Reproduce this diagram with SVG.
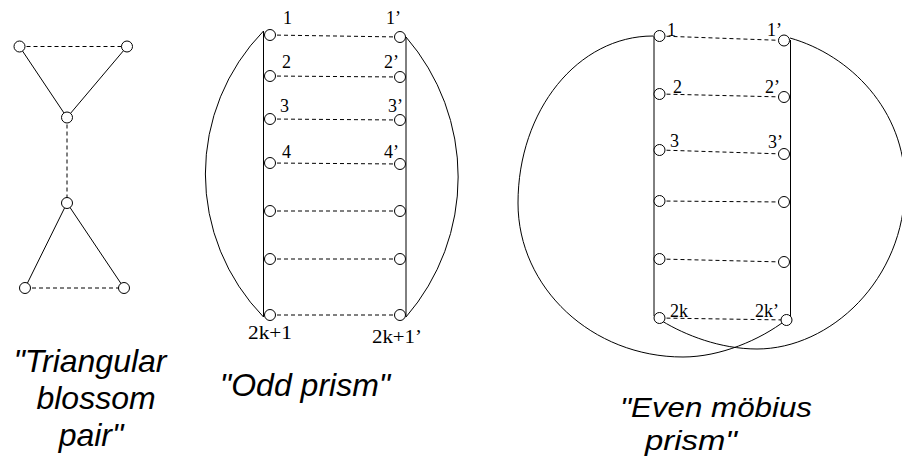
<svg xmlns="http://www.w3.org/2000/svg" width="902" height="457" viewBox="0 0 902 457">
<style>
.e{fill:none;stroke:#000;stroke-width:1}
.d{fill:none;stroke:#000;stroke-width:1;stroke-dasharray:4,3}
.n{fill:#fff;stroke:#000;stroke-width:1}
.l{font-family:"Liberation Serif","Times New Roman",serif;font-size:18px;fill:#000}
.c{font-family:"Liberation Sans",Arial,sans-serif;font-size:32px;font-style:italic;fill:#000;text-anchor:middle}
</style>
<rect width="902" height="457" fill="#fff"/>
<g id="connectors">
  <!-- triangular blossom pair -->
  <line class="e" x1="19.5" y1="46.5" x2="67" y2="117.5"/>
  <line class="e" x1="127" y1="46.5" x2="67" y2="117.5"/>
  <line class="d" x1="19.5" y1="46.5" x2="127" y2="46.5"/>
  <line class="d" x1="67" y1="117.5" x2="67" y2="203"/>
  <line class="e" x1="67" y1="203" x2="25" y2="288"/>
  <line class="e" x1="67" y1="203" x2="124" y2="288"/>
  <line class="d" x1="25" y1="288" x2="124" y2="288"/>
  <!-- odd prism -->
  <line class="e" x1="263.5" y1="31" x2="263.5" y2="317"/>
  <line class="e" x1="406" y1="37" x2="406" y2="317"/>
  <path class="e" d="M263.5,31 A205,205 0 0,0 263.5,317"/>
  <path class="e" d="M406,37 A214,214 0 0,1 406,317"/>
  <line class="d" x1="270" y1="35" x2="400" y2="37"/>
  <line class="d" x1="270" y1="76" x2="400" y2="77"/>
  <line class="d" x1="270" y1="119" x2="400" y2="120"/>
  <line class="d" x1="270" y1="163" x2="400" y2="164"/>
  <line class="d" x1="270" y1="211" x2="400" y2="211"/>
  <line class="d" x1="270" y1="259" x2="400" y2="259"/>
  <line class="d" x1="270" y1="315" x2="400" y2="315"/>
  <!-- even mobius prism -->
  <line class="e" x1="654" y1="36" x2="654" y2="316"/>
  <line class="e" x1="790.5" y1="40" x2="790.5" y2="320"/>
  <path class="e" d="M653,36 C578,36 518,110 518,203 C518,288 592,357 683,357 C720,357 760,340 786,320"/>
  <path class="e" d="M790,38 C850,55 905,110 905,185 C905,280 830,349 757,349 C720,349 685,335 662,321"/>
  <line class="d" x1="659.5" y1="36" x2="784" y2="40.5"/>
  <line class="d" x1="659.5" y1="94" x2="784" y2="97"/>
  <line class="d" x1="659.5" y1="150" x2="784" y2="154"/>
  <line class="d" x1="659.5" y1="201" x2="784" y2="202"/>
  <line class="d" x1="659.5" y1="259" x2="784" y2="262"/>
  <line class="d" x1="659.5" y1="318" x2="786.5" y2="320"/>
</g>
<g id="blossom-nodes">
  <circle id="b1" class="n" cx="19.5" cy="46.5" r="5.5"/>
  <circle id="b2" class="n" cx="127" cy="46.5" r="5.5"/>
  <circle id="b3" class="n" cx="67" cy="117.5" r="5.5"/>
  <circle id="b4" class="n" cx="67" cy="203" r="5.5"/>
  <circle id="b5" class="n" cx="25" cy="288" r="5.5"/>
  <circle id="b6" class="n" cx="124" cy="288" r="5.5"/>
</g>
<g id="odd-nodes">
  <circle class="n" cx="270" cy="35" r="5.5"/>
  <circle class="n" cx="270" cy="76" r="5.5"/>
  <circle class="n" cx="270" cy="119" r="5.5"/>
  <circle class="n" cx="270" cy="163" r="5.5"/>
  <circle class="n" cx="270" cy="211" r="5.5"/>
  <circle class="n" cx="270" cy="259" r="5.5"/>
  <circle class="n" cx="270" cy="315" r="5.5"/>
  <circle class="n" cx="400" cy="37" r="5.5"/>
  <circle class="n" cx="400" cy="77" r="5.5"/>
  <circle class="n" cx="400" cy="120" r="5.5"/>
  <circle class="n" cx="400" cy="164" r="5.5"/>
  <circle class="n" cx="400" cy="211" r="5.5"/>
  <circle class="n" cx="400" cy="259" r="5.5"/>
  <circle class="n" cx="400" cy="315" r="5.5"/>
  <text class="l" x="283" y="24">1</text>
  <text class="l" x="386" y="24">1’</text>
  <text class="l" x="282" y="68">2</text>
  <text class="l" x="384" y="68">2’</text>
  <text class="l" x="280" y="112">3</text>
  <text class="l" x="388" y="112">3’</text>
  <text class="l" x="282" y="158">4</text>
  <text class="l" x="384" y="158">4’</text>
  <text class="l" x="248" y="339" textLength="44" lengthAdjust="spacingAndGlyphs">2k+1</text>
  <text class="l" x="372" y="343" textLength="50" lengthAdjust="spacingAndGlyphs">2k+1’</text>
</g>
<g id="mobius-nodes">
  <circle class="n" cx="659.5" cy="36" r="5.5"/>
  <circle class="n" cx="659.5" cy="94" r="5.5"/>
  <circle class="n" cx="659.5" cy="150" r="5.5"/>
  <circle class="n" cx="659.5" cy="201" r="5.5"/>
  <circle class="n" cx="659.5" cy="259" r="5.5"/>
  <circle class="n" cx="659.5" cy="318" r="5.5"/>
  <circle class="n" cx="784" cy="40.5" r="5.5"/>
  <circle class="n" cx="784" cy="97" r="5.5"/>
  <circle class="n" cx="784" cy="154" r="5.5"/>
  <circle class="n" cx="784" cy="202" r="5.5"/>
  <circle class="n" cx="784" cy="262" r="5.5"/>
  <circle class="n" cx="786.5" cy="320" r="5.5"/>
  <text class="l" x="667" y="36">1</text>
  <text class="l" x="767" y="36">1’</text>
  <text class="l" x="673" y="93">2</text>
  <text class="l" x="765" y="93">2’</text>
  <text class="l" x="670" y="147">3</text>
  <text class="l" x="768" y="148">3’</text>
  <text class="l" x="670" y="317">2k</text>
  <text class="l" x="755" y="317">2k’</text>
</g>
<g id="captions">
  <text class="c" x="90" y="372">"Triangular</text>
  <text class="c" x="96" y="409">blossom</text>
  <text class="c" x="91" y="446">pair"</text>
  <text class="c" x="305" y="396">"Odd prism"</text>
  <text class="c" x="716" y="417" style="font-size:28px" textLength="192" lengthAdjust="spacingAndGlyphs">"Even möbius</text>
  <text class="c" x="691" y="450" style="font-size:28px" textLength="92" lengthAdjust="spacingAndGlyphs">prism"</text>
</g>
</svg>
